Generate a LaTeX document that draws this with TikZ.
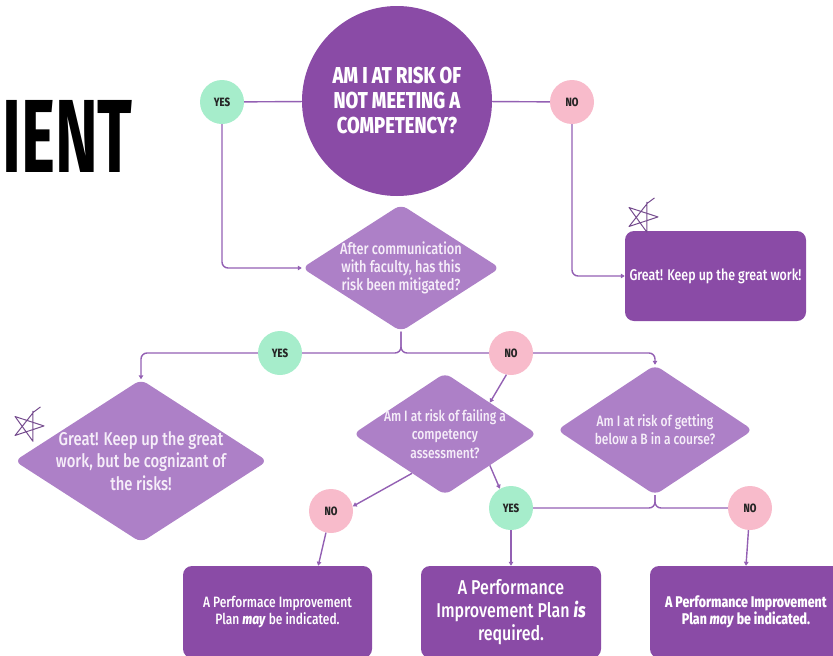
\documentclass[tikz,border=0pt]{standalone}
\usepackage{fontspec}
\IfFontExistsTF{Fira Sans Medium}
	{\setmainfont[FakeStretch=0.8,UprightFont=* Medium,ItalicFont=* Medium Italic]{Fira Sans}}
	{\setmainfont[FakeStretch=0.8]{Fira Sans}}
\newfontfamily\headfont[FakeStretch=0.62]{Fira Sans}
\usetikzlibrary{shapes.geometric,arrows.meta,calc}

\definecolor{plum}{HTML}{8A4BA6}
\definecolor{lilac}{HTML}{AD80C7}
\definecolor{mint}{HTML}{A6EDCB}
\definecolor{blush}{HTML}{F8BBCB}
\definecolor{linkcol}{HTML}{9360B3}
\definecolor{paper}{HTML}{F6EEF9}

\tikzset{
	doodle/.pic={
		\draw[linkcol!80!black, line width=1pt, line join=round, rotate=-18]
			(0,-16) -- (9.4,13) -- (-15.2,-5) -- (15.2,-5) -- (-9.4,13) -- (1,-15) -- (6,-22);
	}
}

\begin{document}
\begin{tikzpicture}
			[
				x=1pt, y=-1pt,
				align=center,
				hub/.style={circle,fill=plum,text=white,minimum size=190pt,inner sep=0pt,
					font=\bfseries\fontsize{23}{25}\selectfont},
				question/.style={diamond,fill=lilac,text=paper,inner sep=-8pt,rounded corners=7pt},
				outcome/.style={rectangle,fill=plum,text=white,rounded corners=9pt,inner sep=0pt},
				yesdot/.style={circle,fill=mint,minimum size=44pt,inner sep=0pt,text=black!85,
					font=\bfseries\fontsize{12}{12}\selectfont},
				nodot/.style={yesdot,fill=blush},
				link/.style={draw=linkcol, line width=1.4pt, rounded corners=6pt},
				arrow/.style={link, -{Triangle[length=4pt,width=4.5pt]}}
			]

			\useasboundingbox (0,0) rectangle (833,656);
			\clip (0,0) rectangle (833,656);

			% heading
			\node[anchor=base east,inner sep=0pt,font=\headfont\bfseries\fontsize{104}{104}\selectfont] (head) at (133,172) {IENT};

			% questions
			\node[hub] (risk) at ( 397, 101 ) {AM I AT RISK OF\\NOT MEETING A\\COMPETENCY?};
			\node[question,minimum width=198pt,minimum height=127pt,shape aspect=1.56,
				font=\fontsize{16}{18}\selectfont] (mitig) at ( 401, 268 ) {After communication\\with faculty, has this\\risk been mitigated?};
			\node[question,minimum width=184pt,minimum height=122pt,shape aspect=1.51,
				font=\fontsize{15}{18.5}\selectfont] (fail) at ( 445, 434 ) {Am I at risk of failing a\\competency\\assessment?};
			\node[question,minimum width=196pt,minimum height=130pt,shape aspect=1.5,
				font=\fontsize{15}{18}\selectfont] (grade) at ( 655, 430 ) {Am I at risk of getting\\below a B in a course?};

			% answers
			\node[yesdot] (y1) at ( 222, 102 ) {YES};
			\node[nodot]  (n1) at ( 572, 102 ) {NO};
			\node[yesdot] (y2) at ( 280, 353 ) {YES};
			\node[nodot]  (n2) at ( 511, 353 ) {NO};
			\node[nodot]  (n3) at ( 331, 511 ) {NO};
			\node[yesdot] (y3) at ( 511, 508 ) {YES};
			\node[nodot]  (n4) at ( 750, 508 ) {NO};

			% outcomes
			\node[outcome,minimum width=181pt,minimum height=90pt,font=\fontsize{15.5}{17}\selectfont]
				(keep) at ( 715.5, 276 ) {Great! Keep up the great work!};
			\node[question,minimum width=253pt,minimum height=163pt,shape aspect=1.55,
				font=\fontsize{18.5}{22.5}\selectfont] (aware) at ( 141, 461 ) {Great! Keep up the great\\work, but be cognizant of\\the risks!};
			\node[outcome,minimum width=189pt,minimum height=92pt,font=\fontsize{15}{17}\selectfont]
				(plan1) at ( 277.5, 612 ) {A Performace Improvement\\Plan \textbf{\textit{may}} be indicated.};
			\node[outcome,minimum width=180pt,minimum height=92pt,font=\fontsize{20}{23}\selectfont]
				(plan2) at ( 511, 612 ) {A Performance\\Improvement Plan \textbf{\textit{is}}\\required.};
			\node[outcome,minimum width=192pt,minimum height=92pt,font=\fontsize{15.5}{17}\selectfont]
				(plan3) at ( 746, 612 ) {\textbf{A Performance Improvement}\\\textbf{Plan \textit{may} be indicated.}};

			% stars
			\pic at ( 642, 217 ) {doodle};
			\pic at (  28, 426 ) {doodle};

			% paths
			\foreach \from/\to in {risk/y1,risk/n1}
			\draw[link] (\from) -- (\to);

			\draw[arrow] (y1) |- (mitig);
			\draw[arrow] (n1) |- (keep);

			\foreach \to in {y2,n2}
			\draw[link] (mitig.south) |- (\to);
			\draw[arrow] (y2) -| (aware);
			\draw[arrow] (n2) -| (grade);
			\draw[arrow] (n2.258) -- (fail.35);

			\draw[arrow] (fail.-35) -- (y3.120);
			\draw[arrow] (fail.230) -- (n3.12);
			\foreach \to in {y3,n4}
			\draw[link] (grade.south) |- (\to);

			\draw[arrow] (n3) -- ($(plan1.north)!0.43!(plan1.north east)$);
			\draw[arrow] (y3) -- (plan2);
			\draw[arrow] (n4) -- (plan3.north);

		\end{tikzpicture}
\end{document}
